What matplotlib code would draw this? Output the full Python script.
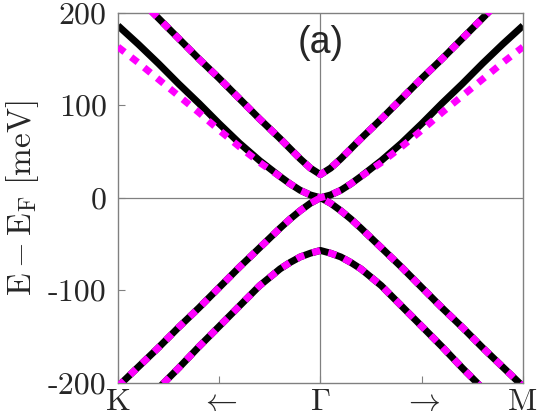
import matplotlib
matplotlib.use('Agg')
import matplotlib.pyplot as plt

# momentum path K -> Gamma -> M (K = -1, Gamma = 0, M = 1)
k = [-1.0, -0.9, -0.8, -0.7, -0.6, -0.5, -0.4, -0.3, -0.2, -0.15, -0.1, -0.05, 0.0,
     0.05, 0.1, 0.15, 0.2, 0.3, 0.4, 0.5, 0.6, 0.7, 0.8, 0.9, 1.0]

# energies in meV
band_top = [238, 216, 194, 172, 150, 129, 107, 85, 64, 53, 42, 32, 25,
            32, 42, 53, 64, 85, 107, 129, 150, 172, 194, 216, 238]
band_mid = [186, 166, 145, 123, 102, 80, 59, 40, 23, 15, 8, 3, 0,
            3, 8, 15, 23, 40, 59, 80, 102, 123, 145, 166, 186]
band_mid_fit = [163, 146, 128, 110, 92, 73, 55, 38, 23, 15, 8, 3, 0,
                3, 8, 15, 23, 38, 55, 73, 92, 110, 128, 146, 163]
band_low = [-204, -183, -162, -140, -119, -97, -75, -54, -33, -23, -14, -6, 0,
            -6, -14, -23, -33, -54, -75, -97, -119, -140, -162, -183, -204]
band_bottom = [-250, -228, -206, -184, -161, -139, -117, -95, -77, -70, -64, -60, -57,
               -60, -64, -70, -77, -95, -117, -139, -161, -184, -206, -228, -250]

xtick_pos = [-1, -0.5, 0, 0.5, 1]
xtick_labels = ['K', r'$\leftarrow$', r'$\Gamma$', r'$\rightarrow$', 'M']
ytick_pos = [-200, -100, 0, 100, 200]
ytick_labels = ['-200', '-100', '0', '100', '200']

plt.rcParams['mathtext.fontset'] = 'cm'

fig = plt.figure(figsize=(5.37, 4.18), dpi=100)
ax = fig.add_axes([0.2197, 0.0844, 0.7542, 0.8852])

# reference lines through Gamma and the Fermi level
ax.axhline(0, color='#808080', lw=0.9, zorder=1)
ax.axvline(0, color='#808080', lw=0.9, zorder=1)

# full model: thick black
for band in [band_top, band_mid, band_low, band_bottom]:
    ax.plot(k, band, color='black', lw=5, solid_capstyle='butt', zorder=2)

# effective model: magenta dots
for band in [band_top, band_mid_fit, band_low, band_bottom]:
    ax.plot(k, band, color='#ff00ff', lw=5, linestyle=(0, (1.2, 1.2)),
            dash_capstyle='butt', zorder=3)

ax.set_xlim(-1, 1)
ax.set_ylim(-200, 200)

ax.set_xticks(xtick_pos)
ax.set_xticklabels(xtick_labels, fontsize=23, family='cmr10', color='#262626')
ax.set_yticks(ytick_pos)
ax.set_yticklabels(ytick_labels, fontsize=23, family='cmr10', color='#262626')
ax.tick_params(direction='in', length=5, width=0.8, color='#808080')
ax.tick_params(axis='x', pad=4)
ax.tick_params(axis='y', pad=8)

for s in ax.spines.values():
    s.set_color('#808080')
    s.set_linewidth(1.0)

ax.set_ylabel(r'$\mathrm{E}-\mathrm{E}_\mathrm{F}\ [\mathrm{meV}]$', fontsize=24, color='#262626')
ax.yaxis.set_label_coords(-0.19, 0.5)

ax.text(0, 167, '(a)', ha='center', va='center', fontsize=27,
        family='Liberation Sans', color='#262626')

fig.savefig('out.png', dpi=100)
